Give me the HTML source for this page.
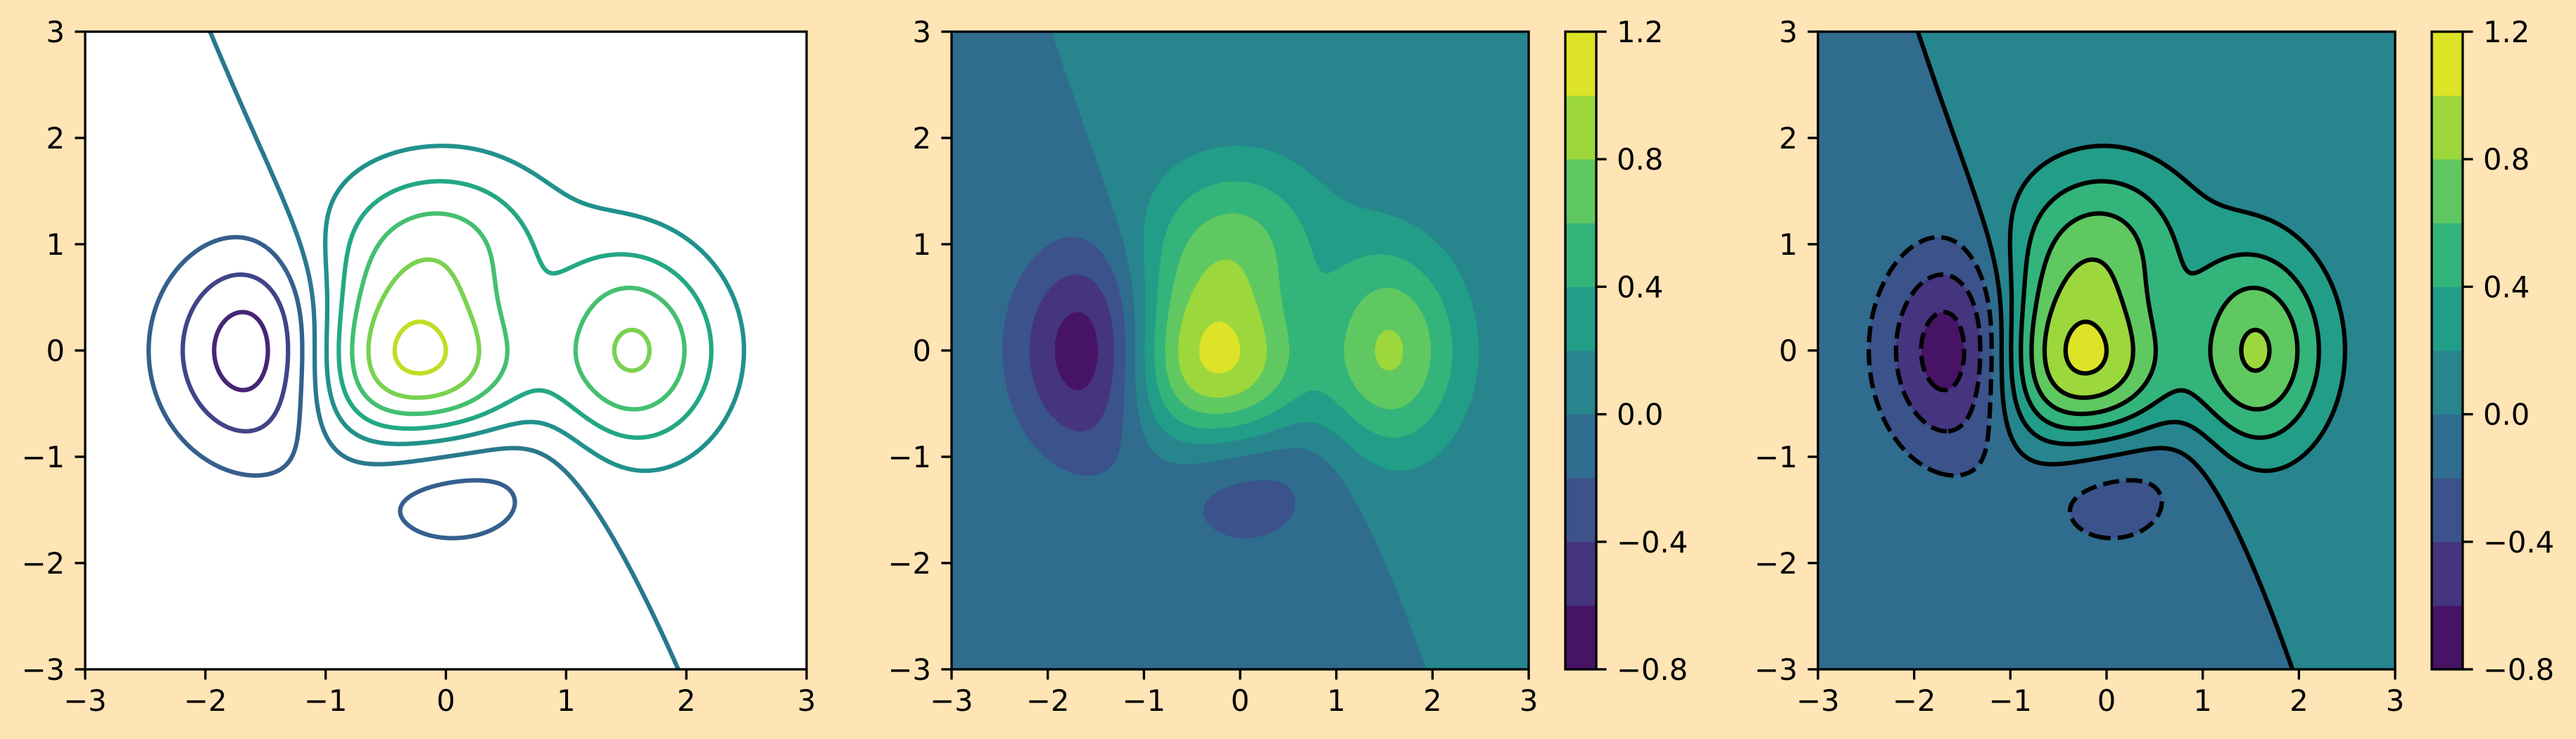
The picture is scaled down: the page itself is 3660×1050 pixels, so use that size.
<!DOCTYPE html>
<html><head><meta charset="utf-8">
<style>
html,body{margin:0;padding:0;background:#ffe4b5;}
#wrap{position:relative;width:3660px;height:1050px;background:#ffe4b5;overflow:hidden;font-family:"DejaVu Sans","Liberation Sans",sans-serif;}
canvas{position:absolute;}
svg{position:absolute;left:0;top:0;}
text{font-family:"DejaVu Sans","Liberation Sans",sans-serif;font-size:41.67px;fill:#000;}
</style></head>
<body>
<div id="wrap">
<canvas id="fill2" width="820" height="906" style="left:1352px;top:45px"></canvas>
<canvas id="fill3" width="820" height="906" style="left:2583px;top:45px"></canvas>
<svg id="svg" width="3660" height="1050" xmlns="http://www.w3.org/2000/svg"></svg>
</div>
<script>
// ---- data ----
const xPowers = [0, 1, 5];
const xCoefs = [1, -0.5, 1];
const yPowers = [3];
const yCoefs = [1];
const fillLevels = [-0.8, -0.6, -0.4, -0.2, 0.0, 0.2, 0.4, 0.6, 0.8, 1.0, 1.2];
const lineLevels = [-0.6, -0.4, -0.2, 0.0, 0.2, 0.4, 0.6, 0.8, 1.0];
const xTicks = [-3, -2, -1, 0, 1, 2, 3];
const yTicks = [-3, -2, -1, 0, 1, 2, 3];
const cbarTicks = [-0.8, -0.4, 0.0, 0.4, 0.8, 1.2];
const cbarTickLabels = ["\u22120.8", "\u22120.4", "0.0", "0.4", "0.8", "1.2"];

const domain = [-3, 3];
const panels = [
  {x0:121, x1:1146, y0:45, y1:951, filled:false, lines:'color', cbar:null},
  {x0:1352, x1:2172, y0:45, y1:951, filled:'fill2', lines:null, cbar:[2224,2268]},
  {x0:2583, x1:3403, y0:45, y1:951, filled:'fill3', lines:'black', cbar:[3455,3499]}
];

// viridis
const VIR = [[68,1,84],[72,36,117],[65,68,135],[53,95,141],[42,120,142],[33,145,140],[34,168,132],[68,191,112],[122,209,81],[189,223,38],[253,231,37]];
function viridis(t){t=Math.max(0,Math.min(1,t));const s=t*10;const i=Math.min(9,Math.floor(s));const f=s-i;
 const a=VIR[i],b=VIR[i+1];return 'rgb('+a.map((v,k)=>Math.round(v+(b[k]-v)*f)).join(',')+')';}
function viridisArr(t){t=Math.max(0,Math.min(1,t));const s=t*10;const i=Math.min(9,Math.floor(s));const f=s-i;
 const a=VIR[i],b=VIR[i+1];return a.map((v,k)=>Math.round(v+(b[k]-v)*f));}
const vmin=fillLevels[0], vmax=fillLevels[fillLevels.length-1];
const norm = v => (v-vmin)/(vmax-vmin);

function field(x,y){
  let p=0;
  for(let k=0;k<xPowers.length;k++) p+=xCoefs[k]*Math.pow(x,xPowers[k]);
  for(let k=0;k<yPowers.length;k++) p+=yCoefs[k]*Math.pow(y,yPowers[k]);
  return p*Math.exp(-x*x-y*y);
}

const NS='http://www.w3.org/2000/svg';
const svg=document.getElementById('svg');
function el(tag,attrs,parent){const e=document.createElementNS(NS,tag);for(const k in attrs)e.setAttribute(k,attrs[k]);(parent||svg).appendChild(e);return e;}

// ---- grid & marching squares ----
const N=301;
const gx=[],Z=[];
for(let i=0;i<N;i++) gx.push(domain[0]+(domain[1]-domain[0])*i/(N-1));
for(let j=0;j<N;j++){const row=[];for(let i=0;i<N;i++)row.push(field(gx[i],gx[j]));Z.push(row);}

function contourChains(level){
  const pts={},adj={};
  function edgePt(key,xa,ya,va,xb,yb,vb){
    if(!pts[key]){const t=(level-va)/(vb-va);pts[key]=[xa+(xb-xa)*t,ya+(yb-ya)*t];}
    return key;
  }
  function link(a,b){(adj[a]=adj[a]||[]).push(b);(adj[b]=adj[b]||[]).push(a);}
  for(let j=0;j<N-1;j++)for(let i=0;i<N-1;i++){
    const v0=Z[j][i],v1=Z[j][i+1],v2=Z[j+1][i+1],v3=Z[j+1][i];
    const a0=v0>level,a1=v1>level,a2=v2>level,a3=v3>level;
    const e=[null,null,null,null];
    if(a0!==a1)e[0]=edgePt('h'+i+'_'+j,gx[i],gx[j],v0,gx[i+1],gx[j],v1);
    if(a1!==a2)e[1]=edgePt('v'+(i+1)+'_'+j,gx[i+1],gx[j],v1,gx[i+1],gx[j+1],v2);
    if(a3!==a2)e[2]=edgePt('h'+i+'_'+(j+1),gx[i],gx[j+1],v3,gx[i+1],gx[j+1],v2);
    if(a0!==a3)e[3]=edgePt('v'+i+'_'+j,gx[i],gx[j],v0,gx[i],gx[j+1],v3);
    const c=e.filter(x=>x);
    if(c.length===2)link(c[0],c[1]);
    else if(c.length===4){
      const cen=(v0+v1+v2+v3)/4>level;
      if(a0){ if(cen){link(e[0],e[1]);link(e[2],e[3]);} else {link(e[3],e[0]);link(e[1],e[2]);} }
      else { if(cen){link(e[3],e[0]);link(e[1],e[2]);} else {link(e[0],e[1]);link(e[2],e[3]);} }
    }
  }
  const visited={},chains=[];
  function walk(start){
    const chain=[start];visited[start]=1;let cur=start;
    while(true){const nb=(adj[cur]||[]).find(k=>!visited[k]);if(!nb)break;visited[nb]=1;chain.push(nb);cur=nb;}
    const closed=(adj[cur]||[]).includes(start)&&chain.length>2;
    chains.push({pts:chain.map(k=>pts[k]),closed});
  }
  for(const k in adj) if(adj[k].length===1&&!visited[k]) walk(k);
  for(const k in adj) if(!visited[k]) walk(k);
  return chains;
}

function sx(p,x){return p.x0+(x-domain[0])/(domain[1]-domain[0])*(p.x1-p.x0);}
function sy(p,y){return p.y1-(y-domain[0])/(domain[1]-domain[0])*(p.y1-p.y0);}

// ---- filled panels ----
panels.forEach((p,pi)=>{
  if(!p.filled)return;
  const cv=document.getElementById(p.filled);const ctx=cv.getContext('2d');
  const W=cv.width,H=cv.height;const img=ctx.createImageData(W,H);
  const bandCols=[];for(let k=0;k<fillLevels.length-1;k++)bandCols.push(viridisArr(norm((fillLevels[k]+fillLevels[k+1])/2)));
  for(let py=0;py<H;py++){const y=domain[1]-(py+0.5)/H*(domain[1]-domain[0]);
    for(let px=0;px<W;px++){const x=domain[0]+(px+0.5)/W*(domain[1]-domain[0]);
      const z=field(x,y);let k=0;while(k<fillLevels.length-2&&z>=fillLevels[k+1])k++;
      const c=bandCols[k];const o=(py*W+px)*4;img.data[o]=c[0];img.data[o+1]=c[1];img.data[o+2]=c[2];img.data[o+3]=255;}}
  ctx.putImageData(img,0,0);
});

// ---- panels: backgrounds, lines, axes ----
panels.forEach((p,pi)=>{
  const g=el('g',{});
  
  
  if(!p.filled){
    const bg=el('rect',{x:p.x0,y:p.y0,width:p.x1-p.x0,height:p.y1-p.y0,fill:'#ffffff'},g);
    
    
  }
  const clipId='clip'+pi;
  const cp=el('clipPath',{id:clipId},g);el('rect',{x:p.x0,y:p.y0,width:p.x1-p.x0,height:p.y1-p.y0},cp);
  if(p.lines){
    const lg=el('g',{'clip-path':'url(#'+clipId+')'},g);
    lineLevels.forEach(lv=>{
      contourChains(lv).forEach(ch=>{
        let d='';ch.pts.forEach((q,k)=>{d+=(k?'L':'M')+sx(p,q[0]).toFixed(2)+' '+sy(p,q[1]).toFixed(2);});
        if(ch.closed)d+='Z';
        const col=p.lines==='black'?'#000':viridis(norm(lv));
        const attrs={d:d,fill:'none',stroke:col,'stroke-width':6.25,'stroke-linejoin':'round'};
        if(p.lines==='black'&&lv<0)attrs['stroke-dasharray']='23 10';
        const path=el('path',attrs,lg);
        
        
      });
    });
  }
  // spines
  const sp=el('rect',{x:p.x0,y:p.y0,width:p.x1-p.x0,height:p.y1-p.y0,fill:'none',stroke:'#000','stroke-width':3.33},g);
  
  
  xTicks.forEach(t=>{
    const X=sx(p,t);
    el('line',{x1:X,x2:X,y1:p.y1,y2:p.y1+14.6,stroke:'#000','stroke-width':3.33},g);
    const tx=el('text',{x:X,y:p.y1+59,'text-anchor':'middle'},g);
    tx.textContent=(t<0?'\u2212':'')+Math.abs(t);
    
    
  });
  yTicks.forEach(t=>{
    const Y=sy(p,t);
    el('line',{x1:p.x0-14.6,x2:p.x0,y1:Y,y2:Y,stroke:'#000','stroke-width':3.33},g);
    const tx=el('text',{x:p.x0-29,y:Y+15,'text-anchor':'end'},g);
    tx.textContent=(t<0?'\u2212':'')+Math.abs(t);
    
    
  });
  if(p.cbar){
    const cg=el('g',{},g);
    
    
    const [cx0,cx1]=p.cbar;const cy=v=>p.y1-(v-vmin)/(vmax-vmin)*(p.y1-p.y0);
    for(let k=0;k<fillLevels.length-1;k++){
      const r=el('rect',{x:cx0,y:cy(fillLevels[k+1]),width:cx1-cx0,height:cy(fillLevels[k])-cy(fillLevels[k+1])+0.5,fill:viridis(norm((fillLevels[k]+fillLevels[k+1])/2))},cg);
      
      
    }
    el('rect',{x:cx0,y:p.y0,width:cx1-cx0,height:p.y1-p.y0,fill:'none',stroke:'#000','stroke-width':3.33},cg);
    cbarTicks.forEach((t,k)=>{
      const Y=cy(t);
      el('line',{x1:cx1,x2:cx1+14.6,y1:Y,y2:Y,stroke:'#000','stroke-width':3.33},cg);
      const tx=el('text',{x:cx1+29,y:Y+15,'text-anchor':'start'},cg);
      tx.textContent=cbarTickLabels[k];
      
      
    });
  }
});
</script>
</body></html>
